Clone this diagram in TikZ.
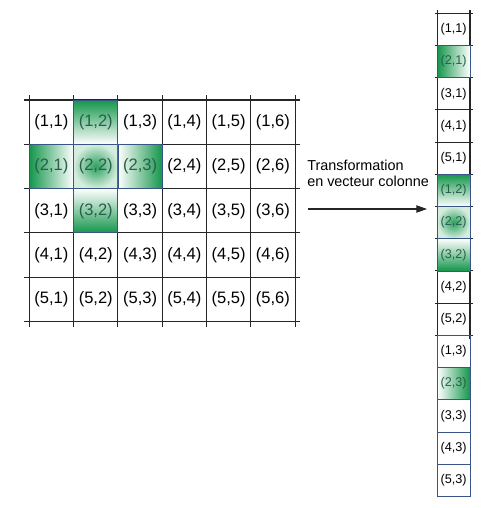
\documentclass[tikz,border=0pt]{standalone}
\usepackage{fontspec}
\setsansfont{Liberation Sans}
\usepackage{xcolor}
\usetikzlibrary{positioning}
\usetikzlibrary{arrows.meta}

\definecolor{hlgreen}{RGB}{20,150,75}
\definecolor{hltext}{RGB}{40,95,75}
\definecolor{edgeblue}{RGB}{55,85,135}

\begin{document}
\begin{tikzpicture}[x=0.75pt, y=-0.75pt, font=\sffamily, >={Triangle[length=8pt,width=5.5pt]}]
    \tikzstyle{gridline}=[draw=black!85, line width=0.85pt]
    \tikzstyle{cell}=[rectangle, inner sep=0pt, minimum width=33.2pt, minimum height=33.2pt, font=\sffamily\fontsize{12.4}{14}\selectfont]
    \tikzstyle{vcell}=[rectangle, inner sep=0pt, minimum width=24.5pt, minimum height=24.15pt, font=\sffamily\fontsize{9.5}{11}\selectfont]
    \tikzstyle{hot}=[draw=edgeblue, line width=0.6pt, text=hltext]
    \tikzstyle{fromtop}=[hot, top color=hlgreen, bottom color=white]
    \tikzstyle{frombottom}=[hot, top color=white, bottom color=hlgreen]
    \tikzstyle{fromleft}=[hot, left color=hlgreen, right color=white]
    \tikzstyle{fromright}=[hot, left color=white, right color=hlgreen]
    \tikzstyle{centre}=[hot, inner color=hlgreen!90, outer color=hlgreen!18]
    \tikzset{hl12/.style=fromtop, hl21/.style=fromleft, hl22/.style=centre,
             hl23/.style=fromright, hl32/.style=frombottom,
             col3/.style={draw=edgeblue, line width=0.6pt}}

    \useasboundingbox (0,0) rectangle (492,508);

    % matrix 5x6
    \foreach \i in {0,...,6}
        \draw[gridline] ({29.3+\i*44.3},95) -- ({29.3+\i*44.3},327);
    \foreach \j in {0,...,5}
        \draw[gridline] (24,{100+\j*44.3}) -- (300,{100+\j*44.3});
    \foreach \r in {1,...,5}
        \foreach \c in {1,...,6}
            \node[cell, hl\r\c/.try] (g\r\c) at ({29.3+(\c-0.5)*44.3},{100+(\r-0.5)*44.3}) {(\r,\c)};

    % column vector
    \draw[gridline] (437.3,10) -- (437.3,338.5);
    \draw[gridline] (470,10) -- (470,338.5);
    \foreach \k in {0,...,10}
        \draw[gridline] (434.5,{13.3+\k*32.2}) -- (472.5,{13.3+\k*32.2});
    \foreach \c in {1,...,3}
        \foreach \r in {1,...,5}
            \node[vcell, col\c/.try, hl\r\c/.try] (v\r\c) at (453.65,{13.3+((\c-1)*5+\r-0.5)*32.2}) {(\r,\c)};

    \node[anchor=west, align=left, inner sep=0pt, font=\sffamily\fontsize{10.8}{12}\selectfont] (caption) at (307,173) {Transformation\\en vecteur colonne};
    \coordinate (src) at (308,209);
    \coordinate (dst) at (427,209);
    \draw[->, draw=black!85, line width=0.8pt] (src) -- (dst);
\end{tikzpicture}
\end{document}
